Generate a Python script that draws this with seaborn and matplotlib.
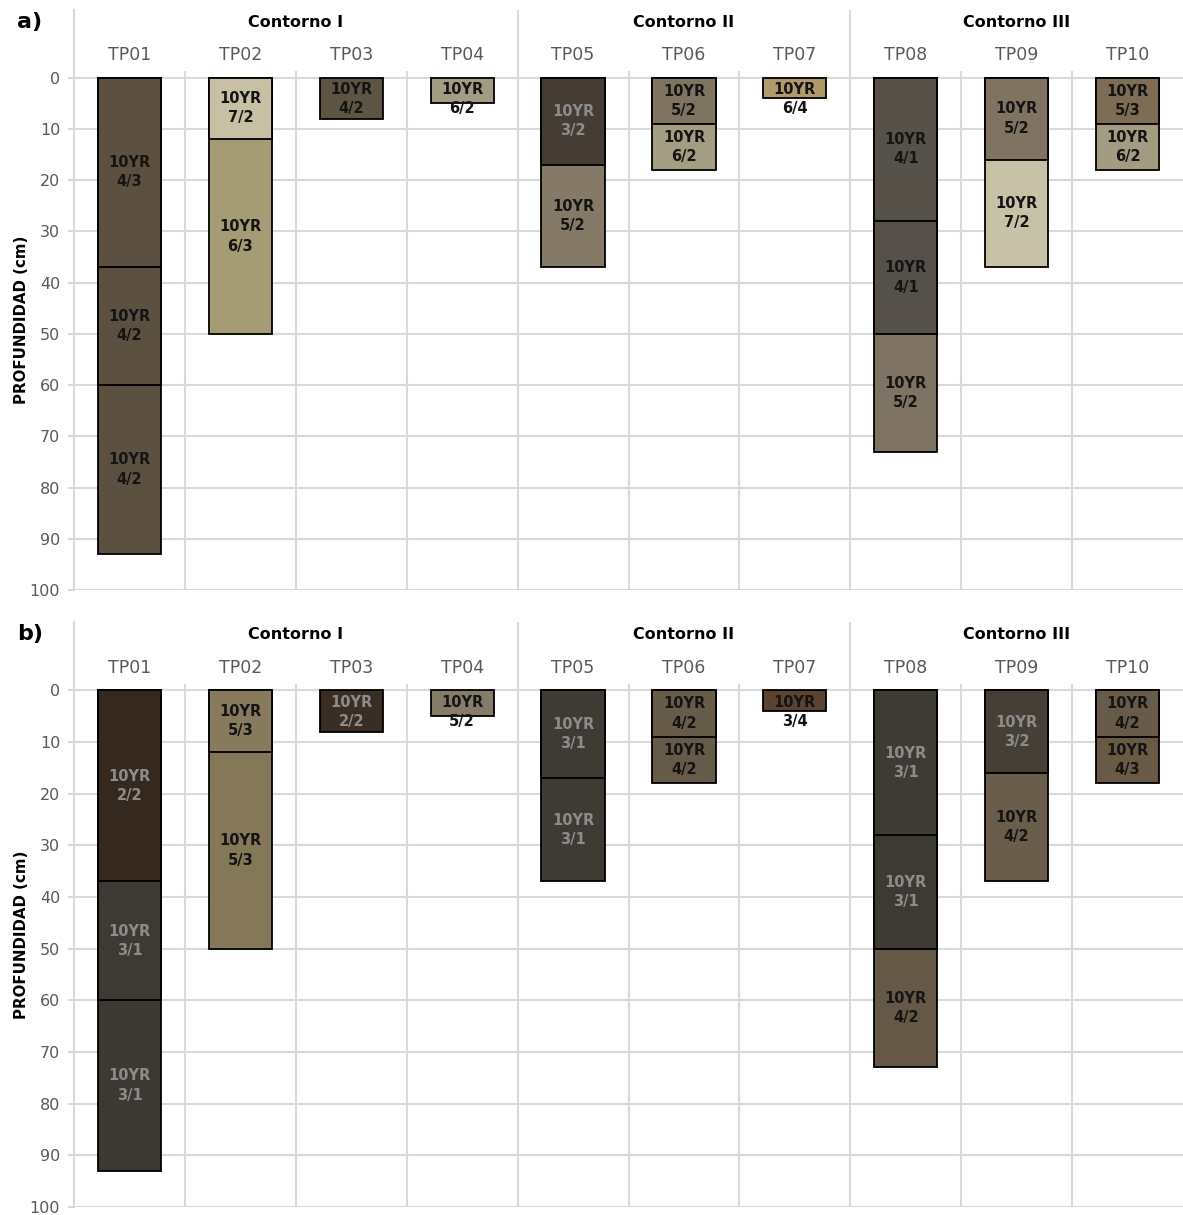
import matplotlib
matplotlib.use("Agg")
import matplotlib.pyplot as plt
import numpy as np
import pandas as pd
import seaborn as sns

# profiles and their "contorno" groups
profiles = ["TP01", "TP02", "TP03", "TP04", "TP05", "TP06", "TP07", "TP08", "TP09", "TP10"]
group_names = ["Contorno I", "Contorno II", "Contorno III"]
group_sizes = [4, 3, 3]

# bottom depth (cm) of each horizon, per profile
layer_bottoms = [[37, 60, 93], [12, 50], [8], [5], [17, 37], [9, 18], [4], [28, 50, 73], [16, 37], [9, 18]]

# Munsell notation (10YR hue) - panel a) and b)
munsell_a = [["4/3", "4/2", "4/2"], ["7/2", "6/3"], ["4/2"], ["6/2"], ["3/2", "5/2"],
             ["5/2", "6/2"], ["6/4"], ["4/1", "4/1", "5/2"], ["5/2", "7/2"], ["5/3", "6/2"]]
munsell_b = [["2/2", "3/1", "3/1"], ["5/3", "5/3"], ["2/2"], ["5/2"], ["3/1", "3/1"],
             ["4/2", "4/2"], ["3/4"], ["3/1", "3/1", "4/2"], ["3/2", "4/2"], ["4/2", "4/3"]]

# approximate swatch colours
colors_a = [["#5e5040", "#5c5041", "#5c5040"], ["#c8c0a5", "#a59b74"], ["#5e5444"], ["#a39c85"],
            ["#453d33", "#857a68"], ["#7f7462", "#a39d84"], ["#b09a6c"],
            ["#56524a", "#55514a", "#7f7363"], ["#807362", "#c7c1a8"], ["#7e6d55", "#a39b82"]]
colors_b = [["#35291f", "#3d3a33", "#3c3932"], ["#877a5d", "#857858"], ["#3a2e24"], ["#857c6a"],
            ["#3e3b34", "#3e3b34"], ["#675b4a", "#665a49"], ["#5a4330"],
            ["#3e3b35", "#3d3a34", "#655847"], ["#463f36", "#6a5d4b"], ["#685b4a", "#6a5a45"]]

GRID = "#d9d9d9"
TICK = "#595959"

sns.set_theme(style="white")
plt.rcParams["font.family"] = ["DejaVu Sans"]


def build_frame(munsell, colors):
    rows = []
    for p, bottoms, mus, cols in zip(profiles, layer_bottoms, munsell, colors):
        top = 0
        for k, (b, m, c) in enumerate(zip(bottoms, mus, cols)):
            rows.append({"profile": p, "layer": k, "top": top, "bottom": b, "munsell": m, "color": c})
            top = b
    return pd.DataFrame(rows)


def draw_panel(ax, df, tag):
    # deeper horizons first, shallower ones drawn on top of them
    for k in sorted(df["layer"].unique(), reverse=True):
        sub = df[df["layer"] == k]
        pal = dict(zip(sub["profile"], sub["color"]))
        sns.barplot(data=sub, x="profile", y="bottom", hue="profile", palette=pal,
                    order=profiles, hue_order=list(sub["profile"]), legend=False,
                    width=0.57, edgecolor="black", linewidth=1.3, saturation=1,
                    ax=ax, zorder=3)

    ax.set_xlim(-0.5, len(profiles) - 0.5)
    ax.set_ylim(100, -13.2)

    # grid
    for d in range(0, 101, 10):
        ax.axhline(d, color=GRID, lw=1.5, zorder=0)
    for i in range(1, len(profiles)):
        ax.vlines(i - 0.5, -1.2, 100, color=GRID, lw=1.5, zorder=0)
    edges = np.cumsum(group_sizes)
    for e in edges[:-1]:
        ax.vlines(e - 0.5, -13.2, 100, color=GRID, lw=1.5, zorder=0)

    for s in ["top", "right", "bottom"]:
        ax.spines[s].set_visible(False)
    ax.spines["left"].set_color(GRID)
    ax.spines["left"].set_linewidth(1.5)

    ax.set_yticks(range(0, 101, 10))
    ax.tick_params(axis="y", left=True, length=4, color=GRID, width=1.5,
                   labelsize=11.5, labelcolor=TICK, pad=6)
    ax.set_xticks([])
    ax.set_xlabel("")
    ax.set_ylabel("PROFUNDIDAD (cm)", fontsize=10.8, fontweight="bold", color="black")
    ax.yaxis.set_label_coords(-0.0406, 0.466)

    # profile names and group names
    for i, p in enumerate(profiles):
        ax.text(i, -4.4, p, ha="center", va="center", fontsize=12.5, color=TICK)
    start = 0
    for name, n in zip(group_names, group_sizes):
        ax.text(start + (n - 1) / 2, -10.8, name, ha="center", va="center",
                fontsize=11.5, fontweight="bold", color="black")
        start += n
    ax.text(-0.9, -10.8, tag, ha="center", va="center", fontsize=16,
            fontweight="bold", color="black")

    # horizon labels
    xpos = {p: i for i, p in enumerate(profiles)}
    for _, r in df.iterrows():
        thick = r["bottom"] - r["top"]
        mid = max((r["top"] + r["bottom"]) / 2, 4.2)
        value = int(r["munsell"].split("/")[0])
        tcol = "#8c8c8c" if (value <= 3 and thick > 5) else "#141414"
        ax.text(xpos[r["profile"]], mid, "10YR\n" + r["munsell"], ha="center", va="center",
                fontsize=10.5, fontweight="bold", color=tcol, linespacing=1.35, zorder=5)


fig = plt.figure(figsize=(11.83, 12.15), dpi=100)
ax_a = fig.add_axes([0.0626, 0.5144, 0.9374, 0.4774])
ax_b = fig.add_axes([0.0626, 0.0066, 0.9374, 0.4814])

draw_panel(ax_a, build_frame(munsell_a, colors_a), "a)")
draw_panel(ax_b, build_frame(munsell_b, colors_b), "b)")

fig.savefig("out.png", dpi=100)
